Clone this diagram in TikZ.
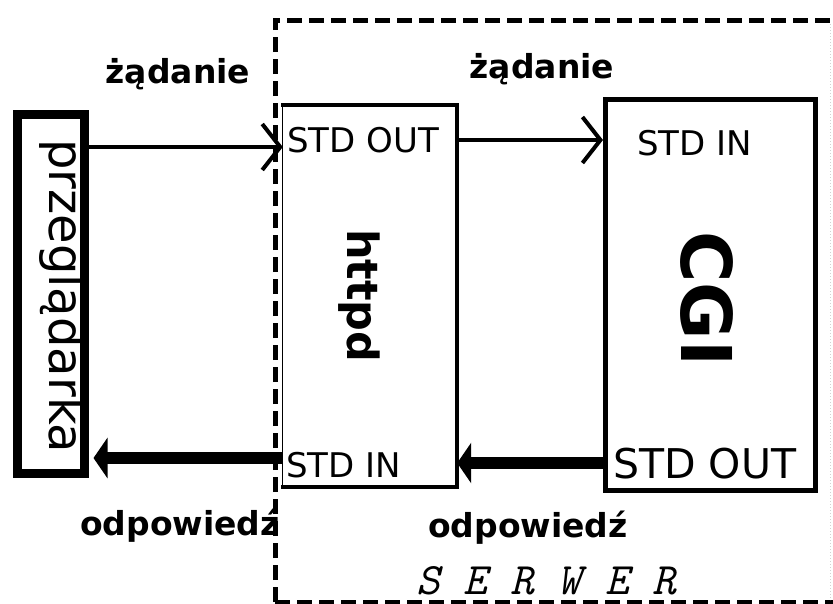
\documentclass[tikz,border=0pt]{standalone}
\usepackage{fontspec}
\setmainfont{DejaVu Sans}
\usetikzlibrary{arrows.meta}

\begin{document}
\begin{tikzpicture}[x=1pt,y=-1pt,
  box/.style={draw, line width=4pt, inner sep=0pt},
  lbl/.style={font=\bfseries\fontsize{33}{33}\selectfont, inner sep=0pt, anchor=base},
  port/.style={font=\fontsize{34}{34}\selectfont, inner sep=0pt, anchor=base west},
  vlbl/.style={rotate=-90, anchor=base west, inner sep=0pt},
  req/.style={line width=4pt, -{Straight Barb[length=18pt,width=46pt]}},
  resp/.style={line width=12pt, -{Triangle[length=14pt,width=40pt]}},
  frame/.style={line width=5pt, dash pattern=on 15pt off 7pt},
]
\useasboundingbox (0,0) rectangle (833,603);
\fill[white] (0,0) rectangle (833,603);

% server frame
\draw[frame] (275,602) -- (275,20) -- (833,20);
\draw[frame] (275,602) -- (833,602);
\draw[gray!35, line width=1pt, dotted] (830,24) -- (830,600);

% boxes
\node[draw, line width=9pt, minimum width=67pt, minimum height=359pt, inner sep=0pt] (browser) at (51,294) {};
\node[inner sep=0pt, minimum width=174pt, minimum height=382pt] (httpd) at (370,296) {};
\draw[line width=4pt, line cap=rect] (httpd.north west) -- (httpd.north east) -- (httpd.south east) -- (httpd.south west);
\draw[line width=1.2pt] (httpd.south west) -- (httpd.north west);
\node[box, line width=5pt, minimum width=210pt, minimum height=391pt] (cgi) at (710.5,295) {};

% vertical titles
\node[vlbl, font=\fontsize{48}{48}\selectfont] (browserlbl) at (49,139) {przeglądarka};
\node[vlbl, font=\bfseries\fontsize{43}{43}\selectfont] (httpdlbl) at (347,229) {httpd};
\node[vlbl, font=\bfseries\fontsize{70}{70}\selectfont] (cgilbl) at (681,231) {CGI};

% stream names
\node[port] (hout) at (287,152) {STD OUT};
\node[port] (cin) at (637,155) {STD IN};
\node[port] (hin) at (286,477) {STD IN};
\node[port, font=\fontsize{41}{41}\selectfont] (cout) at (613,478) {STD OUT};

% message labels
\node[lbl] (req1) at (178,83) {żądanie};
\node[lbl] (req2) at (542,78) {żądanie};
\node[lbl] (resp1) at (180,535) {odpowiedź};
\node[lbl] (resp2) at (528,537) {odpowiedź};
\node[font=\ttfamily\itshape\fontsize{45}{45}\selectfont, anchor=base west, inner sep=0pt] (srv) at (416,594) {S E R W E R};

% connectors
\draw[req] (browser.east |- 0,147) -- (httpd.west |- 0,147);
\draw[req] (httpd.east |- 0,140) -- (cgi.west |- 0,140);
\draw[resp] (cgi.west |- 0,463) -- (httpd.east |- 0,463);
\draw[resp, shorten >=4.5pt] (httpd.west |- 0,458) -- (browser.east |- 0,458);
\end{tikzpicture}
\end{document}
